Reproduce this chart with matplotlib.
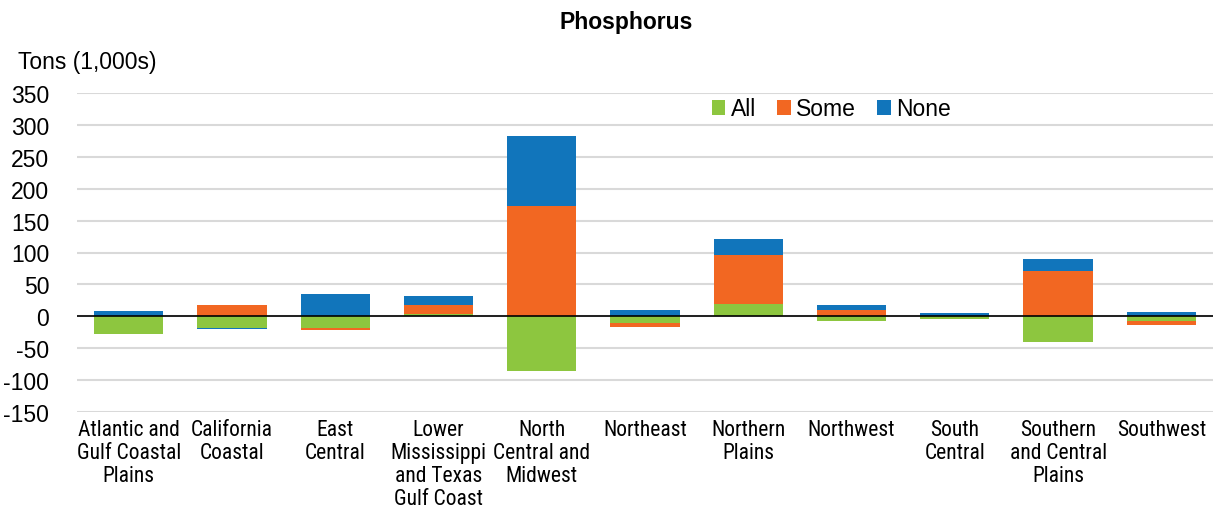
import numpy as np
import matplotlib.pyplot as plt
from matplotlib import font_manager

# ---- values (tons, 1,000s) ----
regions = ["Atlantic and\nGulf Coastal\nPlains", "California\nCoastal", "East\nCentral",
           "Lower\nMississippi\nand Texas\nGulf Coast", "North\nCentral and\nMidwest",
           "Northeast", "Northern\nPlains", "Northwest", "South\nCentral",
           "Southern\nand Central\nPlains", "Southwest"]
all_vals = [-27, -18, -18, 4, -85, -11, 20, -8, -4.5, -41, -7]
some_vals = [-1.5, 18, -4, 14, 173, -6, 76, 10, 0, 71, -6]
none_vals = [8, -1.5, 35, 14, 109, 10, 25, 8, 4.5, 19, 7]
series_names = ["All", "Some", "None"]
yticks = [350, 300, 250, 200, 150, 100, 50, 0, -50, -100, -150]

colors = ["#8DC63F", "#F26722", "#1175BB"]

# the x labels in the reference are set in a narrow face
installed = {f.name for f in font_manager.fontManager.ttflist}
narrow, xfs, xls = "Liberation Sans", 14, 1.15
for cand in ["Liberation Sans Narrow", "Roboto Condensed", "Open Sans Condensed"]:
    if cand in installed:
        narrow, xfs, xls = cand, 15.5, 1.12
        break
plt.rcParams["font.family"] = "Liberation Sans"

fig = plt.figure(figsize=(12.13, 5.10), dpi=100)
ax = fig.add_axes([77 / 1213, 97 / 510, 1136 / 1213, 319 / 510])

x = np.arange(len(regions))
pos_base = np.zeros(len(regions))
neg_base = np.zeros(len(regions))
for name, vals, col in zip(series_names, [all_vals, some_vals, none_vals], colors):
    v = np.array(vals, dtype=float)
    bottoms = np.where(v >= 0, pos_base, neg_base)
    ax.bar(x, v, width=0.67, bottom=bottoms, color=col, label=name, zorder=3)
    pos_base += np.clip(v, 0, None)
    neg_base += np.clip(v, None, 0)

ax.set_xlim(-0.5, len(regions) - 0.5)
ax.set_ylim(-150, 350)
ax.set_yticks(yticks)
ax.set_yticklabels([str(t) for t in yticks], fontsize=16.5)
ax.tick_params(axis="y", length=0, pad=20)
ax.set_xticks(x)
ax.set_xticklabels(regions, fontsize=xfs, family=narrow, linespacing=xls, va="top")
ax.tick_params(axis="x", length=0, pad=5)

ax.grid(axis="y", color="#D9D9D9", linewidth=1.5, zorder=0)
ax.axhline(0, color="black", linewidth=1.2, zorder=4)
for s in ax.spines.values():
    s.set_visible(False)

ax.legend(loc="center", bbox_to_anchor=(0.664, 0.95), ncol=3, frameon=False,
          fontsize=16.5, handlelength=0.6, handleheight=0.6,
          handletextpad=0.25, columnspacing=0.9, borderpad=0)

fig.text(626 / 1213, 1 - 22 / 510, "Phosphorus", ha="center", va="center",
         fontsize=16.5, fontweight="bold")
fig.text(18 / 1213, 1 - 62 / 510, "Tons (1,000s)", ha="left", va="center", fontsize=16.5)

fig.savefig("out.png", dpi=100)
